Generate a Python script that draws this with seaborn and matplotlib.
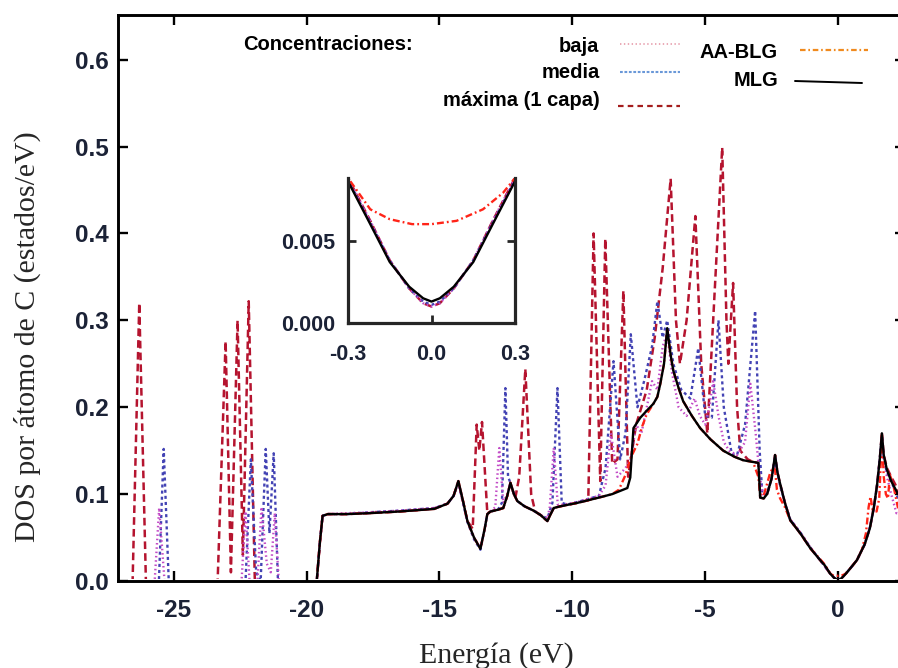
import numpy as np
import pandas as pd
import matplotlib
matplotlib.use("Agg")
import matplotlib.pyplot as plt
from matplotlib.lines import Line2D
from matplotlib.patches import Rectangle
import seaborn as sns

# ---------------- data: DOS per C atom (states/eV) vs energy (eV) ----------------
E_MLG = [-27.1, -19.62, -19.5, -19.4, -19.2, -18.5, -17.7, -16.5, -15.2, -14.7, -14.47, -14.29,
         -14.1, -13.95, -13.7, -13.46, -13.3, -13.2, -13.08, -12.8, -12.6, -12.45, -12.33, -12.2,
         -12.07, -11.8, -11.46, -11.2, -10.94, -10.8, -10.7, -10.45, -9.8, -9.0, -8.5, -7.93,
         -7.82, -7.7, -7.44, -7.2, -6.95, -6.8, -6.69, -6.55, -6.43, -6.3, -6.2, -6.0, -5.83,
         -5.5, -5.19, -4.8, -4.32, -3.9, -3.57, -3.2, -3.0, -2.93, -2.8, -2.67, -2.5, -2.37,
         -2.28, -2.18, -2.0, -1.8, -1.4, -1.05, -0.7, -0.5, -0.3, -0.22, -0.15, -0.08, -0.03,
         0.0, 0.03, 0.08, 0.15, 0.22, 0.3, 0.5, 0.71, 1.0, 1.2, 1.35, 1.47, 1.57, 1.65, 1.72,
         1.84, 2.0, 2.26, 2.52]
DOS_MLG = [0, 0, 0.045, 0.075, 0.077, 0.077, 0.078, 0.080, 0.083, 0.089, 0.098, 0.115,
           0.090, 0.069, 0.050, 0.037, 0.060, 0.077, 0.080, 0.082, 0.084, 0.098, 0.113, 0.100,
           0.092, 0.086, 0.081, 0.076, 0.069, 0.078, 0.084, 0.086, 0.090, 0.096, 0.100, 0.107,
           0.119, 0.176, 0.188, 0.196, 0.204, 0.212, 0.227, 0.250, 0.291, 0.260, 0.242, 0.222, 0.207,
           0.190, 0.176, 0.163, 0.150, 0.143, 0.139, 0.137, 0.136, 0.096, 0.095, 0.100, 0.118, 0.145,
           0.125, 0.112, 0.090, 0.070, 0.054, 0.038, 0.025, 0.018, 0.0086, 0.0060, 0.0037, 0.0022, 0.0015,
           0.0013, 0.0015, 0.0022, 0.0037, 0.0060, 0.0086, 0.016, 0.024, 0.042, 0.061, 0.085, 0.111, 0.140, 0.170, 0.145,
           0.128, 0.115, 0.100, 0.092]

E_AABLG = [-27.1, -19.62, -19.5, -19.4, -19.2, -18.5, -17.7, -16.5, -15.2, -14.7, -14.47, -14.29,
           -14.1, -13.95, -13.7, -13.46, -13.3, -13.2, -13.08, -12.8, -12.6, -12.45, -12.33, -12.2,
           -12.07, -11.8, -11.46, -11.2, -10.94, -10.8, -10.7, -10.45, -9.8, -9.0, -8.5, -8.25,
           -8.0, -7.8, -7.55, -7.37, -7.2, -6.95, -6.8, -6.69, -6.55, -6.43, -6.3, -6.2, -6.0,
           -5.83, -5.5, -5.19, -4.8, -4.32, -3.9, -3.57, -3.2, -3.0, -2.93, -2.8, -2.67, -2.55,
           -2.45, -2.37, -2.3, -2.18, -2.0, -1.8, -1.4, -1.05, -0.7, -0.5, -0.3, -0.22, -0.15,
           -0.07, 0.0, 0.09, 0.185, 0.257, 0.3, 0.5, 0.71, 0.9, 1.05, 1.15, 1.22, 1.3, 1.45,
           1.55, 1.65, 1.72, 1.8, 1.88, 1.95, 2.07, 2.25, 2.52]
DOS_AABLG = [0, 0, 0.045, 0.075, 0.077, 0.077, 0.078, 0.080, 0.083, 0.089, 0.098, 0.115,
             0.090, 0.069, 0.050, 0.037, 0.060, 0.077, 0.080, 0.082, 0.084, 0.098, 0.113, 0.100,
             0.092, 0.086, 0.081, 0.076, 0.069, 0.078, 0.084, 0.086, 0.090, 0.096, 0.100, 0.105,
             0.122, 0.142, 0.158, 0.178, 0.192, 0.204, 0.212, 0.227, 0.250, 0.291, 0.260, 0.242, 0.222,
             0.207, 0.190, 0.176, 0.163, 0.150, 0.143, 0.139, 0.137, 0.120, 0.100, 0.098, 0.112, 0.125,
             0.130, 0.128, 0.105, 0.095, 0.085, 0.070, 0.054, 0.038, 0.026, 0.019, 0.0088, 0.0069, 0.0063,
             0.0060, 0.0060, 0.0062, 0.0069, 0.0079, 0.0088, 0.016, 0.024, 0.036, 0.055, 0.085, 0.097, 0.082, 0.080,
             0.095, 0.168, 0.120, 0.100, 0.095, 0.122, 0.112, 0.085, 0.078]

E_MAX = [-27.1, -26.55, -26.3, -26.05, -23.35, -23.05, -22.85, -22.6, -22.4, -22.18, -21.95,
         -19.62, -19.5, -19.4, -19.2, -18.5, -17.7, -16.5, -15.2, -14.7, -14.47, -14.29, -14.1,
         -13.95, -13.75, -13.6, -13.5, -13.4, -13.2, -13.08, -12.8, -12.6, -12.45, -12.33, -12.15,
         -12.0, -11.77, -11.55, -11.4, -11.2, -10.94, -10.8, -10.7, -10.45, -9.8, -9.4, -9.2,
         -8.95, -8.76, -8.5, -8.3, -8.08, -7.9, -7.6, -7.2, -6.9, -6.6, -6.3, -6.1, -5.95, -5.7,
         -5.37, -5.15, -4.92, -4.7, -4.36, -4.2, -4.13, -3.95, -3.8, -3.68, -3.4, -3.2, -3.0,
         -2.93, -2.8, -2.67, -2.5, -2.37, -2.28, -2.18, -2.0, -1.8, -1.4, -1.05, -0.7, -0.5,
         -0.3, -0.22, -0.15, -0.08, -0.03, 0.0, 0.03, 0.08, 0.15, 0.22, 0.3, 0.5, 0.71, 1.0,
         1.2, 1.35, 1.47, 1.57, 1.65, 1.72, 1.84, 2.0, 2.26, 2.52]
DOS_MAX = [0, 0, 0.320, 0, 0, 0.276, 0.010, 0.300, 0.030, 0.322, 0,
           0, 0.045, 0.075, 0.077, 0.077, 0.078, 0.080, 0.083, 0.089, 0.098, 0.115, 0.090,
           0.069, 0.060, 0.180, 0.150, 0.183, 0.078, 0.080, 0.082, 0.084, 0.098, 0.113, 0.095,
           0.120, 0.244, 0.100, 0.080, 0.076, 0.069, 0.078, 0.084, 0.086, 0.090, 0.093, 0.400,
           0.115, 0.394, 0.135, 0.140, 0.334, 0.120, 0.180, 0.220, 0.280, 0.360, 0.463, 0.300, 0.250, 0.300,
           0.420, 0.250, 0.170, 0.300, 0.499, 0.300, 0.250, 0.343, 0.200, 0.150, 0.140, 0.137, 0.136,
           0.096, 0.095, 0.100, 0.118, 0.145, 0.125, 0.112, 0.090, 0.070, 0.054, 0.038, 0.025, 0.017,
           0.0088, 0.0062, 0.0038, 0.0021, 0.0012, 0.0010, 0.0012, 0.0021, 0.0038, 0.0062, 0.0088, 0.016, 0.024, 0.042,
           0.061, 0.085, 0.111, 0.140, 0.170, 0.145, 0.130, 0.120, 0.105, 0.095]

E_MED = [-27.1, -25.56, -25.38, -25.19, -22.3, -22.1, -21.9, -21.73, -21.54, -21.4, -21.24, -21.08,
         -19.62, -19.5, -19.4, -19.2, -18.5, -17.7, -16.5, -15.2, -14.7, -14.47, -14.29, -14.1,
         -13.95, -13.7, -13.46, -13.3, -13.2, -13.08, -12.8, -12.65, -12.52, -12.42, -12.33, -12.2,
         -12.07, -11.8, -11.46, -11.2, -10.94, -10.75, -10.56, -10.4, -10.2, -9.8, -9.0, -8.75,
         -8.45, -8.2, -8.0, -7.8, -7.55, -7.3, -7.0, -6.8, -6.6, -6.43, -6.2, -5.9, -5.56, -5.26,
         -5.0, -4.75, -4.5, -4.3, -4.0, -3.8, -3.5, -3.12, -2.95, -2.85, -2.67, -2.5, -2.37,
         -2.28, -2.18, -2.0, -1.8, -1.4, -1.05, -0.7, -0.5, -0.3, -0.22, -0.15, -0.08, -0.03,
         0.0, 0.03, 0.08, 0.15, 0.22, 0.3, 0.5, 0.71, 1.0, 1.2, 1.35, 1.47, 1.57, 1.65, 1.72,
         1.84, 2.0, 2.26, 2.52]
DOS_MED = [0, 0, 0.152, 0, 0, 0.140, 0.010, 0, 0.152, 0.055, 0.147, 0,
           0, 0.045, 0.075, 0.077, 0.077, 0.079, 0.081, 0.084, 0.089, 0.098, 0.113, 0.088,
           0.068, 0.048, 0.036, 0.060, 0.077, 0.080, 0.082, 0.090, 0.222, 0.120, 0.113, 0.100,
           0.092, 0.086, 0.081, 0.076, 0.072, 0.090, 0.222, 0.090, 0.088, 0.091, 0.098, 0.130,
           0.253, 0.140, 0.170, 0.284, 0.200, 0.230, 0.270, 0.322, 0.280, 0.300, 0.250, 0.220, 0.210, 0.268,
           0.190, 0.188, 0.300, 0.200, 0.146, 0.145, 0.180, 0.311, 0.150, 0.100, 0.100, 0.118, 0.143,
           0.125, 0.110, 0.090, 0.071, 0.055, 0.039, 0.025, 0.017, 0.0087, 0.0061, 0.0038, 0.0021, 0.0013,
           0.0011, 0.0013, 0.0021, 0.0038, 0.0061, 0.0087, 0.016, 0.024, 0.042, 0.062, 0.085, 0.110, 0.140, 0.168, 0.140,
           0.125, 0.115, 0.095, 0.090]

E_BAJA = [-27.1, -25.72, -25.55, -25.35, -22.45, -22.3, -22.15, -21.85, -21.7, -21.5, -21.35, -21.2,
          -21.05, -19.62, -19.5, -19.4, -19.2, -18.5, -17.7, -16.5, -15.2, -14.7, -14.47, -14.29,
          -14.1, -13.95, -13.7, -13.46, -13.3, -13.2, -13.08, -12.9, -12.75, -12.6, -12.45, -12.33,
          -12.2, -12.07, -11.8, -11.46, -11.2, -10.94, -10.85, -10.7, -10.55, -10.3, -9.8, -9.0,
          -8.75, -8.55, -8.3, -8.0, -7.8, -7.6, -7.4, -7.2, -7.0, -6.8, -6.6, -6.43, -6.25, -6.0,
          -5.7, -5.4, -5.2, -5.0, -4.85, -4.7, -4.5, -4.3, -4.1, -3.8, -3.5, -3.3, -3.1, -2.95,
          -2.8, -2.67, -2.5, -2.37, -2.28, -2.18, -2.0, -1.8, -1.4, -1.05, -0.7, -0.5, -0.3,
          -0.22, -0.15, -0.08, -0.03, 0.0, 0.03, 0.08, 0.15, 0.22, 0.3, 0.5, 0.71, 1.0, 1.2,
          1.35, 1.47, 1.57, 1.65, 1.72, 1.84, 2.0, 2.2, 2.52]
DOS_BAJA = [0, 0, 0.084, 0, 0, 0.080, 0, 0, 0.085, 0.020, 0.010, 0.078,
            0, 0, 0.045, 0.075, 0.077, 0.078, 0.079, 0.081, 0.084, 0.089, 0.098, 0.114,
            0.089, 0.069, 0.050, 0.038, 0.060, 0.077, 0.080, 0.085, 0.153, 0.090, 0.100, 0.113,
            0.100, 0.092, 0.086, 0.081, 0.076, 0.072, 0.085, 0.153, 0.088, 0.088, 0.091, 0.098,
            0.110, 0.170, 0.120, 0.130, 0.140, 0.180, 0.170, 0.200, 0.230, 0.220, 0.270, 0.285, 0.240, 0.200,
            0.190, 0.210, 0.190, 0.180, 0.200, 0.230, 0.190, 0.160, 0.150, 0.145, 0.160, 0.227, 0.170, 0.120,
            0.097, 0.100, 0.118, 0.143, 0.124, 0.110, 0.090, 0.071, 0.055, 0.039, 0.025, 0.017, 0.0088,
            0.0062, 0.0038, 0.0021, 0.0012, 0.0010, 0.0012, 0.0021, 0.0038, 0.0062, 0.0088, 0.016, 0.024, 0.042, 0.062,
            0.085, 0.110, 0.140, 0.165, 0.140, 0.120, 0.100, 0.078, 0.085]

X_TICKS = [-25, -20, -15, -10, -5, 0]
Y_TICKS = [0.0, 0.1, 0.2, 0.3, 0.4, 0.5, 0.6]
INSET_X_TICKS = [-0.3, 0.0, 0.3]
INSET_Y_TICKS = [0.0, 0.005]

# ---------------- style ----------------
sns.set_style("ticks")
plt.rcParams["font.family"] = ["Liberation Sans", "DejaVu Sans"]
plt.rcParams["axes.unicode_minus"] = False
plt.rcParams["lines.scale_dashes"] = False

TICK_COLOR = "#1b2236"
SERIF = ["Liberation Serif", "DejaVu Serif"]

W, H = 898, 668
fig = plt.figure(figsize=(W / 100, H / 100), dpi=100)
fig.patch.set_facecolor("white")


def fx(px):
    return px / W


def fy(py):
    return 1 - py / H


ax = fig.add_axes([fx(118), fy(581), fx(905) - fx(118), fy(14.5) - fy(581)])

series = [
    # name, E, DOS, colour, dashes, linewidth
    ("máxima", E_MAX, DOS_MAX, "#b5142f", (5.5, 3.0), 1.8),
    ("media", E_MED, DOS_MED, "#4343b4", (2.2, 2.2), 1.7),
    ("baja", E_BAJA, DOS_BAJA, "#c24ac6", (1.1, 2.0), 1.7),
    ("AA-BLG", E_AABLG, DOS_AABLG, "#ff2418", (5.0, 2.2, 1.3, 2.2), 1.7),
    ("MLG", E_MLG, DOS_MLG, "#000000", None, 1.7),
]


def draw(target, floor=0.0):
    # floor > 0 trims the part of each curve that would lie on the bottom spine
    for name, e, d, col, dash, lw in series:
        df = pd.DataFrame({"E": e, "DOS": d})
        sns.lineplot(data=df, x="E", y="DOS", ax=target, color=col, linewidth=lw,
                     estimator=None, sort=False, legend=False)
        line = target.lines[-1]
        if dash is not None:
            line.set_dashes(dash)
        line.set_solid_joinstyle("round")
        if floor > 0:
            line.set_clip_path(Rectangle((0, floor), 1, 1.2, transform=target.transAxes))


draw(ax, floor=0.004)
ax.set_xlim(-27.1, 2.52)
ax.set_ylim(0, 0.652)
ax.set_xticks(X_TICKS)
ax.set_xticklabels([f"{t:d}" for t in X_TICKS])
ax.set_yticks(Y_TICKS)
ax.set_yticklabels([f"{t:.1f}" for t in Y_TICKS])
ax.set_xlabel("")
ax.set_ylabel("")
ax.tick_params(direction="in", length=7, width=1.7, top=True, right=True,
               labelsize=17.5, labelcolor=TICK_COLOR, color="black")
ax.tick_params(axis="x", pad=13)
ax.tick_params(axis="y", pad=7)
for lab in ax.get_xticklabels() + ax.get_yticklabels():
    lab.set_fontweight("bold")
for s in ax.spines.values():
    s.set_linewidth(2.1)
    s.set_color("black")
    s.set_zorder(5)

# inset: zoom around the Dirac point
axin = fig.add_axes([fx(348), fy(323), fx(515) - fx(348), fy(178) - fy(323)])
draw(axin)
axin.set_xlim(-0.3, 0.3)
axin.set_ylim(0, 0.0088)
axin.set_xticks(INSET_X_TICKS)
axin.set_xticklabels([f"{t:.1f}" for t in INSET_X_TICKS])
axin.set_yticks(INSET_Y_TICKS)
axin.set_yticklabels([f"{t:.3f}" for t in INSET_Y_TICKS])
axin.set_xlabel("")
axin.set_ylabel("")
axin.spines["top"].set_visible(False)
for k in ("left", "right", "bottom"):
    axin.spines[k].set_linewidth(2.3)
    axin.spines[k].set_zorder(5)
axin.tick_params(direction="in", length=6, width=2.0, right=True, top=False,
                 labelsize=15.5, labelcolor=TICK_COLOR)
axin.tick_params(axis="x", pad=15)
axin.tick_params(axis="y", pad=9)
for lab in axin.get_xticklabels() + axin.get_yticklabels():
    lab.set_fontweight("bold")

# axis titles
fig.text(fx(27), fy(337), "DOS por átomo de C (estados/eV)", rotation=90,
         ha="center", va="center", fontsize=21.5, family=SERIF)
fig.text(fx(496), fy(663), "Energía (eV)", ha="center", va="baseline",
         fontsize=21.5, family=SERIF)

# key
key_kw = dict(family=["Liberation Sans", "DejaVu Sans"], fontweight="bold",
              fontsize=14.5, va="center", color="black")
fig.text(fx(243), fy(45), "Concentraciones:", ha="left", **key_kw)
fig.text(fx(599), fy(46), "baja", ha="right", **key_kw)
fig.text(fx(600), fy(72), "media", ha="right", **key_kw)
fig.text(fx(600), fy(100), "máxima (1 capa)", ha="right", **key_kw)
fig.text(fx(778), fy(52), "AA-BLG", ha="right", **key_kw)
fig.text(fx(778), fy(80), "MLG", ha="right", **key_kw)

key_lines = [
    ((620, 680), (44, 44), "#e8a2b0", (1.0, 1.8), 1.3),
    ((620, 680), (72, 72), "#6a98d8", (2.0, 1.2), 1.5),
    ((618, 680), (106, 106), "#a41c1c", (4.0, 3.0), 1.6),
    ((800, 868), (50, 50), "#f08a1e", (4.0, 2.0, 1.2, 2.0), 1.6),
    ((795, 862), (81, 83), "#000000", None, 1.4),
]
for (x0, x1), (y0, y1), col, dash, lw in key_lines:
    ln = Line2D([fx(x0), fx(x1)], [fy(y0), fy(y1)], transform=fig.transFigure,
                color=col, linewidth=lw)
    if dash is not None:
        ln.set_dashes(dash)
    fig.add_artist(ln)

fig.savefig("out.png", dpi=100)
